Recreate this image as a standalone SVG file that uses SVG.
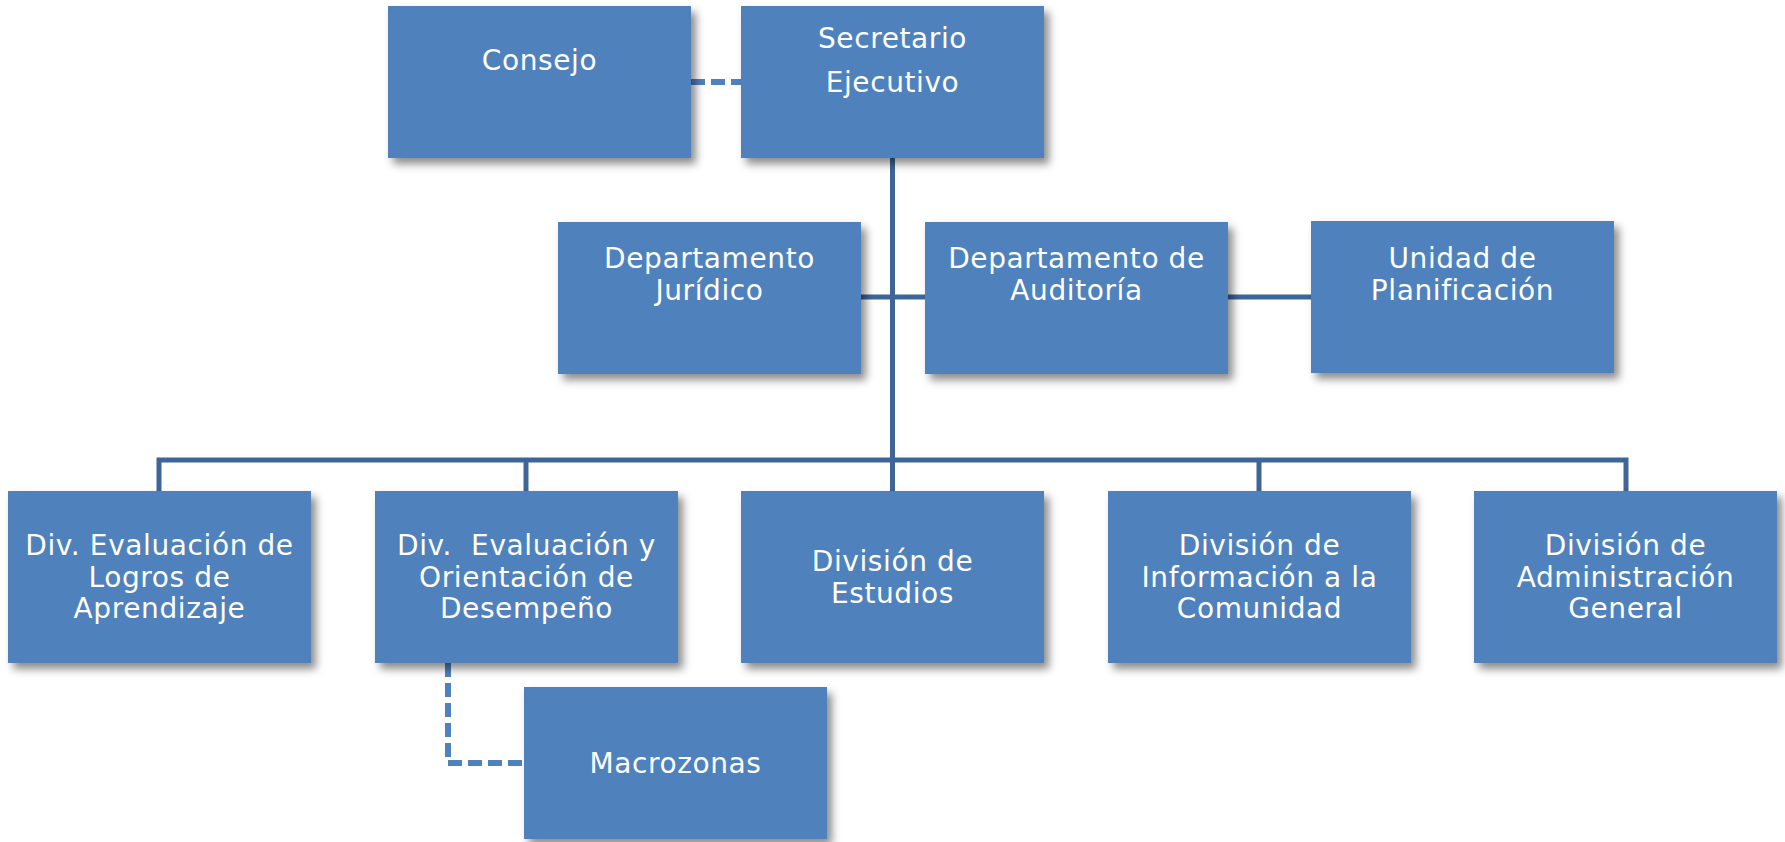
<svg xmlns="http://www.w3.org/2000/svg" width="1785" height="842" viewBox="0 0 1785 842">
<defs>
<filter id="sh" x="-10%" y="-10%" width="130%" height="130%">
<feDropShadow dx="5" dy="6" stdDeviation="4" flood-color="#000" flood-opacity="0.45"/>
</filter>
<style>
.box{fill:#4F81BD;filter:url(#sh);}
.t{font-family:"DejaVu Sans","Verdana",sans-serif;font-size:28px;letter-spacing:0.6px;fill:#FFFFFF;text-anchor:middle;white-space:pre;}
.ln{stroke:#3D6597;stroke-width:5;fill:none;}
.ds{stroke:#4F81BD;stroke-width:6;fill:none;stroke-dasharray:14,6;}
</style>
</defs>
<rect width="1785" height="842" fill="#FFFFFF"/>
<g id="connectors">
<line class="ds" x1="691" y1="82" x2="741" y2="82"/>
<line class="ln" x1="892.5" y1="158" x2="892.5" y2="491"/>
<line class="ln" x1="861" y1="297" x2="925" y2="297"/>
<line class="ln" x1="1228" y1="297" x2="1311" y2="297"/>
<polyline class="ln" points="159,491 159,460 1626,460 1626,491"/>
<line class="ln" x1="526" y1="460" x2="526" y2="491"/>
<line class="ln" x1="1259" y1="460" x2="1259" y2="491"/>
<polyline class="ds" points="448,663 448,763 524,763"/>
</g>
<g id="consejo">
<rect class="box" x="388" y="6" width="303" height="152"/>
<text class="t" x="539.5" y="70">Consejo</text>
</g>
<g id="secretario">
<rect class="box" x="741" y="6" width="303" height="152"/>
<text class="t" x="892.5" y="48">Secretario</text>
<text class="t" x="892.5" y="92">Ejecutivo</text>
</g>
<g id="juridico">
<rect class="box" x="558" y="222" width="303" height="152"/>
<text class="t" x="709.5" y="268">Departamento</text>
<text class="t" x="709.5" y="300">Jurídico</text>
</g>
<g id="auditoria">
<rect class="box" x="925" y="222" width="303" height="152"/>
<text class="t" x="1076.5" y="268">Departamento de</text>
<text class="t" x="1076.5" y="300">Auditoría</text>
</g>
<g id="planificacion">
<rect class="box" x="1311" y="221" width="303" height="152"/>
<text class="t" x="1462.5" y="268">Unidad de</text>
<text class="t" x="1462.5" y="300">Planificación</text>
</g>
<g id="div-logros">
<rect class="box" x="8" y="491" width="303" height="172"/>
<text class="t" x="159.5" y="555">Div. Evaluación de</text>
<text class="t" x="159.5" y="587">Logros de</text>
<text class="t" x="159.5" y="618">Aprendizaje</text>
</g>
<g id="div-desempeno">
<rect class="box" x="375" y="491" width="303" height="172"/>
<text class="t" x="526.5" y="555">Div.  Evaluación y</text>
<text class="t" x="526.5" y="587">Orientación de</text>
<text class="t" x="526.5" y="618">Desempeño</text>
</g>
<g id="div-estudios">
<rect class="box" x="741" y="491" width="303" height="172"/>
<text class="t" x="892.5" y="571">División de</text>
<text class="t" x="892.5" y="603">Estudios</text>
</g>
<g id="div-informacion">
<rect class="box" x="1108" y="491" width="303" height="172"/>
<text class="t" x="1259.5" y="555">División de</text>
<text class="t" x="1259.5" y="587">Información a la</text>
<text class="t" x="1259.5" y="618">Comunidad</text>
</g>
<g id="div-administracion">
<rect class="box" x="1474" y="491" width="303" height="172"/>
<text class="t" x="1625.5" y="555">División de</text>
<text class="t" x="1625.5" y="587">Administración</text>
<text class="t" x="1625.5" y="618">General</text>
</g>
<g id="macrozonas">
<rect class="box" x="524" y="687" width="303" height="152"/>
<text class="t" x="675.5" y="773">Macrozonas</text>
</g>
</svg>
